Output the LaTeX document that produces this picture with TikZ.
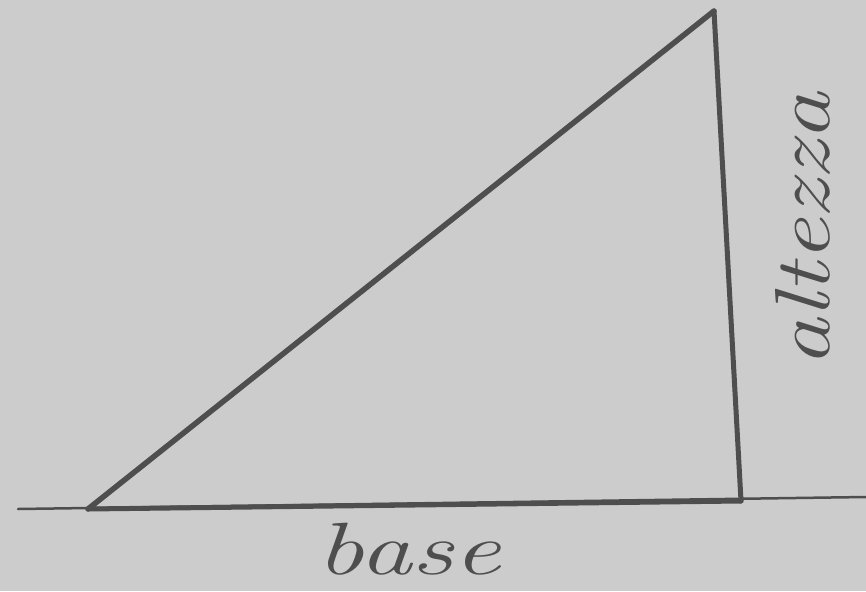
\documentclass[tikz,border=0pt]{standalone}
\begin{document}
\begin{tikzpicture}[x=1pt,y=-1pt,
  pencil/.style={draw=pencilgray,line cap=round,line join=round},
  label/.style={text=pencilgray,font=\itshape\fontsize{78}{78}\selectfont,inner sep=0pt}]
\definecolor{papergray}{RGB}{204,204,204}
\definecolor{pencilgray}{RGB}{78,78,78}
\fill[papergray] (0,0) rectangle (866,591);
\useasboundingbox (0,0) rectangle (866,591);
\coordinate (L) at (18,509);
\coordinate (R) at (866,497);
\coordinate (A) at (88,509);
\coordinate (B) at (714,11);
\coordinate (C) at (741,501);
\draw[pencil,line width=2.5] (L) -- (R);
\draw[pencil,line width=5] (A) -- (C);
\draw[pencil,line width=5.5] (A) -- (B);
\draw[pencil,line width=5] (B) -- (C);
\node[label,xscale=1.35,yscale=0.95] (base) at (409,549) {base};
\node[label,rotate=90,xscale=1.25] (alt) at (803,230) {altezza};
\end{tikzpicture}
\end{document}
